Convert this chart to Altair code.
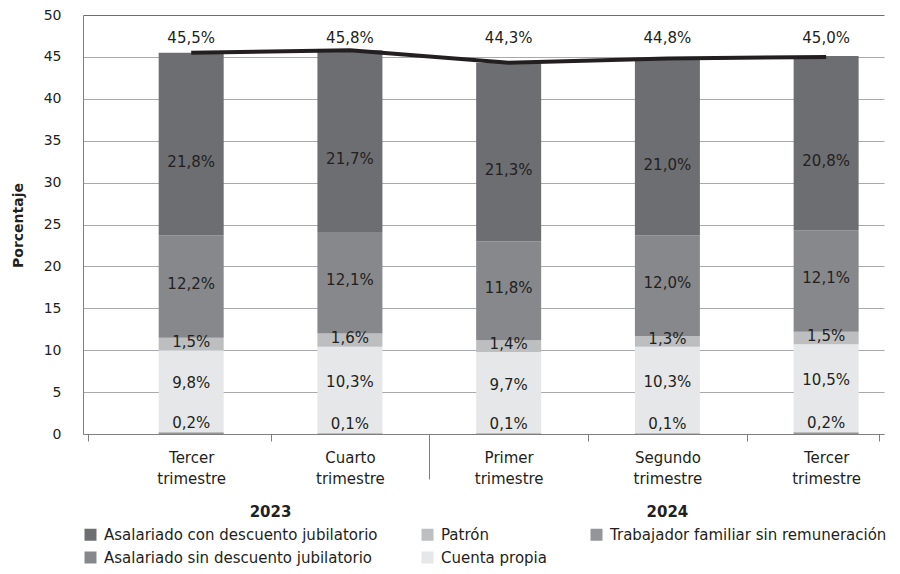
import json
import altair as alt
import pandas as pd

# ---------------- data ----------------
periodos = ["Tercer trimestre", "Cuarto trimestre", "Primer trimestre",
            "Segundo trimestre", "Tercer trimestre"]
anios = ["2023", "2023", "2024", "2024", "2024"]

# stacked from bottom to top
series = ["Trabajador familiar sin remuneración", "Cuenta propia", "Patrón",
          "Asalariado sin descuento jubilatorio", "Asalariado con descuento jubilatorio"]
trabajador_familiar = [0.2, 0.1, 0.1, 0.1, 0.2]
cuenta_propia = [9.8, 10.3, 9.7, 10.3, 10.5]
patron = [1.5, 1.6, 1.4, 1.3, 1.5]
asalariado_sin = [12.2, 12.1, 11.8, 12.0, 12.1]
asalariado_con = [21.8, 21.7, 21.3, 21.0, 20.8]
total = [45.5, 45.8, 44.3, 44.8, 45.0]

colores = {
    "Asalariado con descuento jubilatorio": "#6d6e71",
    "Asalariado sin descuento jubilatorio": "#87888b",
    "Patrón": "#bcbec0",
    "Cuenta propia": "#e6e7e8",
    "Trabajador familiar sin remuneración": "#939598",
}
# legend is filled column by column (2 rows)
orden_leyenda = ["Asalariado con descuento jubilatorio", "Asalariado sin descuento jubilatorio",
                 "Patrón", "Cuenta propia", "Trabajador familiar sin remuneración"]

# label nudges (pixels) per series, to sit like the original
ajuste_dy = {
    "Trabajador familiar sin remuneración": -10,
    "Cuenta propia": -8,
    "Patrón": -2,
    "Asalariado sin descuento jubilatorio": -3,
    "Asalariado con descuento jubilatorio": 18,
}

valores = [trabajador_familiar, cuenta_propia, patron, asalariado_sin, asalariado_con]


def fmt(v):
    return f"{v:.1f}".replace(".", ",") + "%"


rows = []
for i in range(len(periodos)):
    base = 0.0
    for s, vals in zip(series, valores):
        v = vals[i]
        rows.append({"idx": i, "serie": s, "valor": v, "y0": base, "y1": base + v,
                     "mid": base + v / 2, "etiqueta": fmt(v)})
        base += v
df = pd.DataFrame(rows)

df_tot = pd.DataFrame({"idx": list(range(len(periodos))), "total": total,
                       "etiqueta": [fmt(v) for v in total]})

anios_unicos = sorted(set(anios))
df_anio = pd.DataFrame({
    "anio": anios_unicos,
    "pos": [sum(i for i, a in enumerate(anios) if a == y) / anios.count(y) for y in anios_unicos],
})

# ---------------- scales / axes ----------------
FONT = "DejaVu Sans"
TXT = "#231f20"
n = len(periodos)
xmin, xmax = -0.65, n - 1 + 0.333
xscale = alt.Scale(domain=[xmin, xmax], nice=False, zero=False)
yscale = alt.Scale(domain=[0, 50], nice=False)

sep = 1.5  # between 2023 and 2024
tick_vals = [xmin] + [i * 0.5 for i in range(0, 2 * n - 1)] + [xmax]
label_expr = ("(datum.value % 1 == 0) ? split(" + json.dumps(periodos, ensure_ascii=False)
              + "[datum.value], ' ') : ''")

xaxis = alt.Axis(
    title=None, values=tick_vals, labelExpr=label_expr, grid=False,
    domainColor="#7f7f7f", domainWidth=1,
    tickColor="#7f7f7f", tickWidth=1,
    tickSize={"condition": {"test": f"datum.value == {sep}", "value": 45}, "value": 7},
    tickOpacity={"condition": {"test": "datum.value % 1 == 0", "value": 0}, "value": 1},
    labelFont=FONT, labelFontSize=15, labelColor=TXT, labelPadding=9,
    labelLineHeight=21, labelBaseline="top", labelOverlap=False, labelFlush=False,
    labelBound=False,
)
yaxis = alt.Axis(
    title="Porcentaje", values=list(range(0, 51, 5)), ticks=False,
    domainColor="#7f7f7f", domainWidth=1,
    gridColor={"condition": {"test": "datum.value == 50", "value": "#6d6e70"}, "value": "#a7a9ac"},
    gridWidth=1,
    labelFont=FONT, labelFontSize=14, labelColor=TXT, labelPadding=22,
    titleFont=FONT, titleFontSize=14, titleFontWeight="bold", titleColor=TXT,
    titleAngle=270, titleX=-65, titleY=210, titleAlign="center", titleBaseline="middle",
)

# ---------------- layers ----------------
bars = alt.Chart(df).mark_bar(size=65).encode(
    x=alt.X("idx:Q", scale=xscale, axis=xaxis),
    y=alt.Y("y0:Q", scale=yscale, axis=yaxis),
    y2="y1:Q",
    color=alt.Color(
        "serie:N",
        scale=alt.Scale(domain=orden_leyenda, range=[colores[s] for s in orden_leyenda]),
        legend=alt.Legend(
            title=None, orient="none", legendX=0, legendY=512, columns=3,
            columnPadding=42, rowPadding=7, symbolType="square", symbolSize=144,
            symbolStrokeWidth=0, labelFont=FONT, labelFontSize=15, labelColor=TXT,
            labelOffset=6, labelLimit=400,
        ),
    ),
)

seg_labels = []
for s in series:
    seg_labels.append(
        alt.Chart(df[df["serie"] == s]).mark_text(
            font=FONT, fontSize=15, color=TXT, dy=ajuste_dy[s]
        ).encode(
            x=alt.X("idx:Q", scale=xscale),
            y=alt.Y("mid:Q", scale=yscale),
            text="etiqueta:N",
        )
    )

line = alt.Chart(df_tot).mark_line(color=TXT, strokeWidth=4).encode(
    x=alt.X("idx:Q", scale=xscale),
    y=alt.Y("total:Q", scale=yscale),
)

tot_labels = alt.Chart(df_tot).transform_joinaggregate(
    maxtot="max(total)"
).transform_calculate(
    pos="datum.maxtot + 1.5"
).mark_text(font=FONT, fontSize=15, color=TXT).encode(
    x=alt.X("idx:Q", scale=xscale),
    y=alt.Y("pos:Q", scale=yscale),
    text="etiqueta:N",
)

year_labels = alt.Chart(df_anio).mark_text(
    font=FONT, fontSize=15, fontWeight="bold", color=TXT
).encode(
    x=alt.X("pos:Q", scale=xscale),
    y=alt.value(497),
    text="anio:N",
)

chart = alt.layer(bars, *seg_labels, line, tot_labels, year_labels).properties(
    width=801, height=419,
    autosize=alt.AutoSizeParams(type="none"),
    padding={"left": 75, "top": 7, "right": 8, "bottom": 132},
).configure_view(stroke=None)

chart.save("out.html", embed_options={"renderer": "svg", "actions": False})
